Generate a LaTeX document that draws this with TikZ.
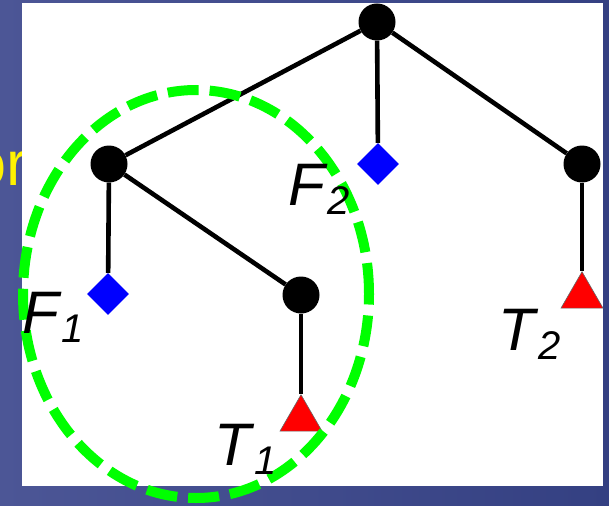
\documentclass[tikz,border=0pt]{standalone}
\usepackage{fontspec}
\setmainfont{Liberation Sans}
\usepackage{tikz}
\usetikzlibrary{shapes.geometric,positioning}
\definecolor{bgleft}{RGB}{76,86,150}
\definecolor{bgright}{RGB}{52,64,130}

\newcommand{\sublab}[2]{\textit{#1}\raisebox{-9pt}{\fontsize{40}{40}\selectfont\textit{#2}}}

\begin{document}
\begin{tikzpicture}[
  x=1pt, y=-1pt,
  dot/.style={circle, fill=black, minimum size=37pt, inner sep=0pt},
  fdia/.style={diamond, fill=blue, minimum size=42pt, inner sep=0pt},
  ttri/.style={regular polygon, regular polygon sides=3, fill=red, draw=black!60, line width=0.6pt, minimum size=48.5pt, inner sep=0pt},
  lbl/.style={inner sep=0pt, anchor=base west, font=\fontsize{60}{60}\selectfont},
  link/.style={draw, line width=4.6pt}
]
\clip (0,0) rectangle (609,505);
\shade[left color=bgleft, right color=bgright] (0,0) rectangle (609,505);
\node[anchor=base west, inner sep=0pt, text=yellow, font=\fontsize{63}{63}\selectfont] (word) at (-29,185) {or};
\fill[white] (22,3) rectangle (603,486);

\node[dot] (root) at (377,22) {};
\node[dot] (a) at (109,164) {};
\node[fdia] (f2) at (378,164) {};
\node[dot] (r) at (582,164) {};
\node[fdia] (f1) at (108,294) {};
\node[dot] (b) at (301,295) {};
\node[ttri] (t1) at (301,419) {};
\node[ttri] (t2) at (582,296) {};

\draw[link] (root) -- (a);
\draw[link] (root) -- (f2);
\draw[link] (root) -- (r);
\draw[link] (a) -- (f1);
\draw[link] (a) -- (b);
\draw[link] (b) -- (t1);
\draw[link] (r) -- (t2);

\draw[green, line width=10pt, dash pattern=on 31pt off 11pt] (196,294) ellipse [x radius=173pt, y radius=204pt];

\node[lbl] (lf1) at (22,333) {\sublab{F}{1}};
\node[lbl] (lf2) at (288,205) {\sublab{F}{2}};
\node[lbl] (lt1) at (214,465) {\sublab{T}{1}};
\node[lbl] (lt2) at (498,350) {\sublab{T}{2}};
\end{tikzpicture}
\end{document}
